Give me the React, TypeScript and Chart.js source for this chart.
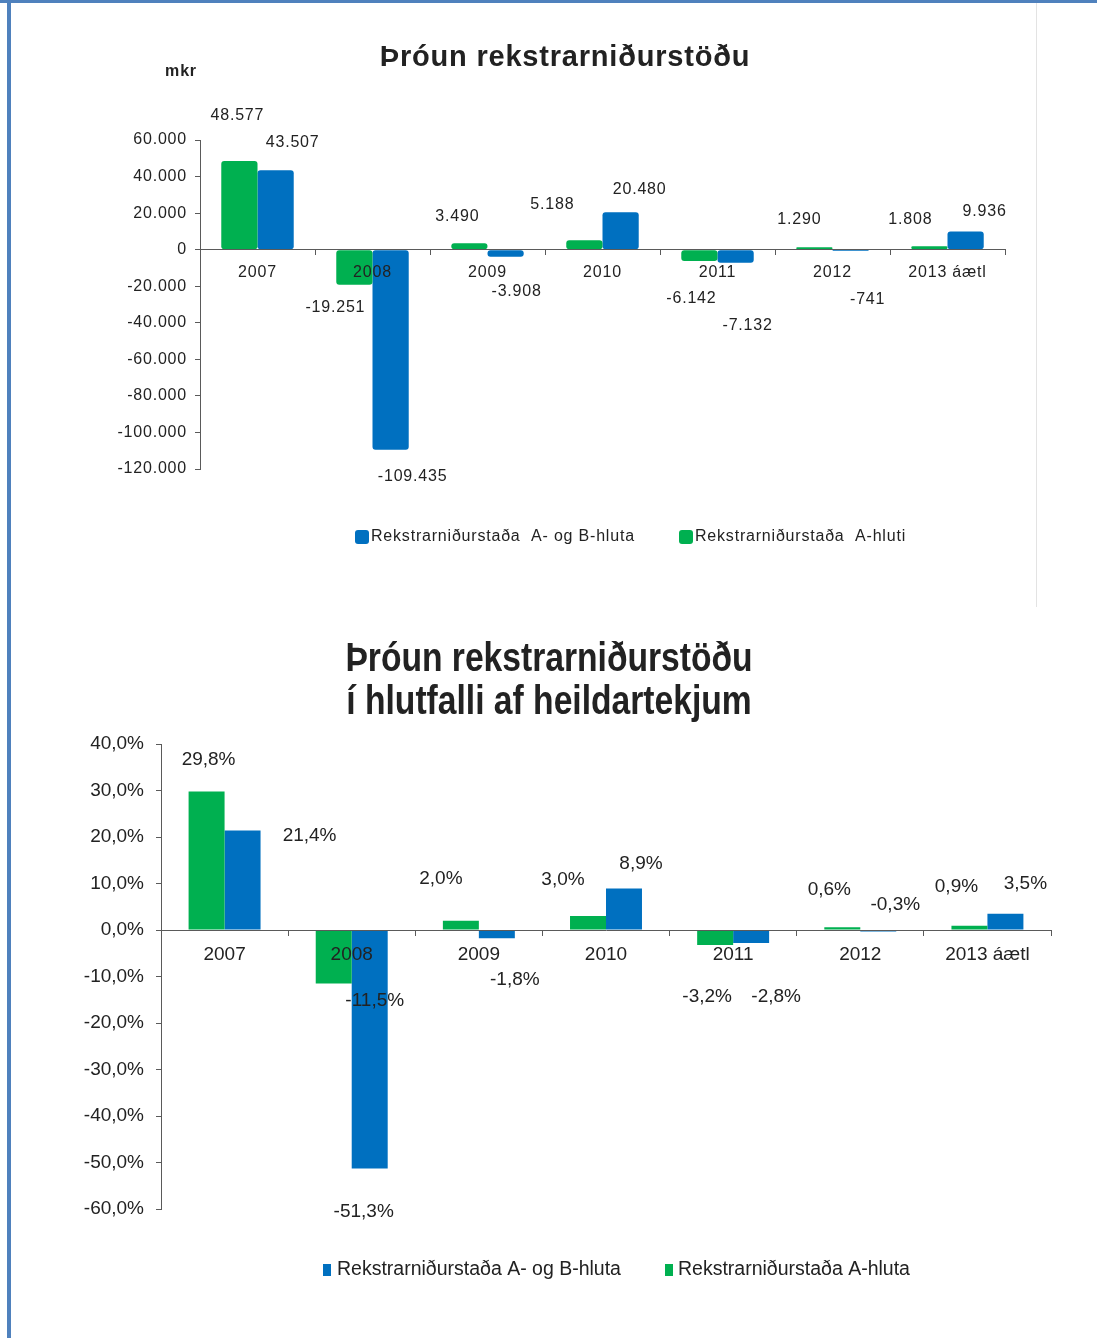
import React, { useEffect, useRef } from 'react';
import { Chart, registerables } from 'chart.js';

Chart.register(...registerables);

// ---------- data ----------
const categories = ['2007', '2008', '2009', '2010', '2011', '2012', '2013 áætl'];

// Chart 1: amounts (mkr)
const amountA = [48577, -19251, 3490, 5188, -6142, 1290, 1808];
const amountAB = [43507, -109435, -3908, 20480, -7132, -741, 9936];
const amountTicks = [60000, 40000, 20000, 0, -20000, -40000, -60000, -80000, -100000, -120000];

// Chart 2: share of total revenue (%)
const ratioA = [29.8, -11.5, 2.0, 3.0, -3.2, 0.6, 0.9];
const ratioAB = [21.4, -51.3, -1.8, 8.9, -2.8, -0.3, 3.5];
const ratioTicks = [40, 30, 20, 10, 0, -10, -20, -30, -40, -50, -60];

const title1 = 'Þróun rekstrarniðurstöðu';
const unit1 = 'mkr';
const title2 = ['Þróun rekstrarniðurstöðu', 'í hlutfalli af heildartekjum'];
const legend1 = ['Rekstrarniðurstaða  A-hluti', 'Rekstrarniðurstaða  A- og B-hluta'];
const legend2 = ['Rekstrarniðurstaða A-hluta', 'Rekstrarniðurstaða A- og B-hluta'];

// ---------- style ----------
const GREEN = '#00b050';
const BLUE = '#0070c0';
const TEXT = '#222222';
const AXIS = '#5a5a5a';
const FAMILY = '"Liberation Sans", Arial, sans-serif';

// label nudges [dx, dy] relative to bar centre / bar end (style only)
const nudge1 = [
  [[-2, -45], [-19, 23], [-12, -27], [-32, -36], [-8, 38], [-15, -28], [-19, -27]],
  [[17, -28], [22, 27], [11, 35], [19, -23], [12, 63], [17, 49], [19, -20]],
];
const nudge2 = [
  [[2, -32], [41, 17], [-20, -42], [-25, -36], [-8, 52], [-13, -37], [-13, -39]],
  [[67, 5], [-6, 43], [18, 41], [17, -25], [25, 54], [17, -27], [20, -30]],
];

function fmtThousands(v: number): string {
  const neg = v < 0;
  const s = Math.abs(Math.round(v)).toString().replace(/\B(?=(\d{3})+(?!\d))/g, '.');
  return (neg ? '-' : '') + s;
}
function fmtPct(v: number): string {
  const r = Math.round(v * 10) / 10;
  return (Object.is(r, -0) ? 0 : r).toFixed(1).replace('.', ',') + '%';
}

type DecorCfg = {
  letterSpacing: string;
  fmt: (v: number) => string;
  labelFont: string;
  nudges: number[][][];
  drawTitle: (ctx: CanvasRenderingContext2D) => void;
  legend: { font: string; y: number; items: { x: number; textX: number; w: number; h: number; r: number }[] };
};

function makeDecor(cfg: DecorCfg) {
  return {
    id: 'decor',
    beforeDraw(chart: any) {
      const ctx = chart.ctx as any;
      ctx.letterSpacing = cfg.letterSpacing;
    },
    afterDraw(chart: any) {
      const ctx = chart.ctx as CanvasRenderingContext2D;
      // value labels
      ctx.save();
      ctx.font = cfg.labelFont;
      ctx.fillStyle = TEXT;
      ctx.textAlign = 'center';
      ctx.textBaseline = 'middle';
      chart.data.datasets.forEach((ds: any, d: number) => {
        const meta = chart.getDatasetMeta(d);
        meta.data.forEach((bar: any, i: number) => {
          const [dx, dy] = cfg.nudges[d][i];
          ctx.fillText(cfg.fmt(ds.data[i]), bar.x + dx, bar.y + dy);
        });
      });
      ctx.restore();
      // titles
      ctx.save();
      ctx.fillStyle = TEXT;
      cfg.drawTitle(ctx);
      ctx.restore();
      // legend: blue (second dataset) first
      const order = [1, 0];
      ctx.save();
      ctx.font = cfg.legend.font;
      ctx.textBaseline = 'middle';
      ctx.textAlign = 'left';
      order.forEach((d, k) => {
        const ds = chart.data.datasets[d];
        const it = cfg.legend.items[k];
        ctx.fillStyle = ds.backgroundColor;
        ctx.beginPath();
        if (it.r > 0 && (ctx as any).roundRect) {
          (ctx as any).roundRect(it.x, cfg.legend.y - it.h / 2, it.w, it.h, it.r);
        } else {
          ctx.rect(it.x, cfg.legend.y - it.h / 2, it.w, it.h);
        }
        ctx.fill();
        ctx.fillStyle = TEXT;
        ctx.fillText(ds.label, it.textX, cfg.legend.y);
      });
      ctx.restore();
    },
  };
}

function chart1Config() {
  return {
    type: 'bar',
    data: {
      labels: categories,
      datasets: [
        { label: legend1[0], data: amountA, backgroundColor: GREEN, borderRadius: 3, borderSkipped: false, categoryPercentage: 0.63, barPercentage: 1 },
        { label: legend1[1], data: amountAB, backgroundColor: BLUE, borderRadius: 3, borderSkipped: false, categoryPercentage: 0.63, barPercentage: 1 },
      ],
    },
    options: {
      responsive: false,
      animation: false,
      events: [],
      layout: { padding: { left: 0, top: 140, right: 92, bottom: 141 } },
      plugins: { legend: { display: false }, title: { display: false }, tooltip: { enabled: false } },
      scales: {
        x: {
          position: { y: 0 },
          offset: true,
          grid: { drawOnChartArea: false, drawTicks: true, tickLength: 5, color: AXIS, offset: true, z: 1 },
          border: { display: true, color: AXIS, width: 1, z: 1 },
          ticks: { z: 1, color: TEXT, font: { family: FAMILY, size: 16 }, padding: 8, maxRotation: 0, autoSkip: false },
        },
        y: {
          min: amountTicks[amountTicks.length - 1],
          max: amountTicks[0],
          afterFit: (s: any) => { s.width = 200; },
          afterBuildTicks: (s: any) => { s.ticks = amountTicks.map((v) => ({ value: v })); },
          grid: { drawOnChartArea: false, tickLength: 5, color: AXIS },
          border: { display: true, color: AXIS, width: 1 },
          ticks: { color: TEXT, font: { family: FAMILY, size: 16 }, padding: 8, callback: (v: any) => fmtThousands(Number(v)) },
        },
      },
    },
    plugins: [
      makeDecor({
        letterSpacing: '0.8px',
        fmt: fmtThousands,
        labelFont: `16px ${FAMILY}`,
        nudges: nudge1,
        drawTitle: (ctx) => {
          ctx.textAlign = 'center';
          ctx.textBaseline = 'middle';
          ctx.font = `bold 29px ${FAMILY}`;
          ctx.fillText(title1, 565, 58);
          ctx.font = `bold 16px ${FAMILY}`;
          ctx.fillText(unit1, 181, 72);
        },
        legend: {
          font: `16px ${FAMILY}`,
          y: 537,
          items: [
            { x: 355, textX: 371, w: 14, h: 14, r: 3 },
            { x: 679, textX: 695, w: 14, h: 14, r: 3 },
          ],
        },
      }),
    ],
  };
}

function chart2Config() {
  return {
    type: 'bar',
    data: {
      labels: categories,
      datasets: [
        { label: legend2[0], data: ratioA, backgroundColor: GREEN, categoryPercentage: 0.566, barPercentage: 1 },
        { label: legend2[1], data: ratioAB, backgroundColor: BLUE, categoryPercentage: 0.566, barPercentage: 1 },
      ],
    },
    options: {
      responsive: false,
      animation: false,
      events: [],
      layout: { padding: { left: 0, top: 134, right: 46, bottom: 129 } },
      plugins: { legend: { display: false }, title: { display: false }, tooltip: { enabled: false } },
      scales: {
        x: {
          position: { y: 0 },
          offset: true,
          grid: { drawOnChartArea: false, drawTicks: true, tickLength: 5, color: AXIS, offset: true, z: 1 },
          border: { display: true, color: AXIS, width: 1, z: 1 },
          ticks: { z: 1, color: TEXT, font: { family: FAMILY, size: 19 }, padding: 8, maxRotation: 0, autoSkip: false },
        },
        y: {
          min: ratioTicks[ratioTicks.length - 1],
          max: ratioTicks[0],
          afterFit: (s: any) => { s.width = 161; },
          afterBuildTicks: (s: any) => { s.ticks = ratioTicks.map((v) => ({ value: v })); },
          grid: { drawOnChartArea: false, tickLength: 5, color: AXIS },
          border: { display: true, color: AXIS, width: 1 },
          ticks: { color: TEXT, font: { family: FAMILY, size: 19 }, padding: 12, callback: (v: any) => fmtPct(Number(v)) },
        },
      },
    },
    plugins: [
      makeDecor({
        letterSpacing: '0px',
        fmt: fmtPct,
        labelFont: `19px ${FAMILY}`,
        nudges: nudge2,
        drawTitle: (ctx) => {
          ctx.textAlign = 'center';
          ctx.textBaseline = 'middle';
          ctx.font = `bold 41px ${FAMILY}`;
          const ys = [50, 93];
          title2.forEach((line, i) => {
            ctx.save();
            ctx.translate(549, ys[i]);
            ctx.scale(0.82, 1);
            ctx.fillText(line, 0, 0);
            ctx.restore();
          });
        },
        legend: {
          font: `19.5px ${FAMILY}`,
          y: 660,
          items: [
            { x: 323, textX: 337, w: 8, h: 12, r: 0 },
            { x: 665, textX: 678, w: 8, h: 12, r: 0 },
          ],
        },
      }),
    ],
  };
}

function ChartCanvas(props: { make: () => any; top: number; width: number; height: number }) {
  const ref = useRef<HTMLCanvasElement | null>(null);
  useEffect(() => {
    if (!ref.current) return;
    const chart = new Chart(ref.current, props.make() as any);
    return () => chart.destroy();
  }, []);
  return (
    <canvas
      ref={ref}
      width={props.width}
      height={props.height}
      style={{ position: 'absolute', left: 0, top: props.top, width: props.width, height: props.height, display: 'block' }}
    />
  );
}

export default function App() {
  return (
    <div style={{ position: 'absolute', left: 0, top: 0, width: 1097, height: 1338, background: '#ffffff', overflow: 'hidden' }}>
      <ChartCanvas make={chart1Config} top={0} width={1097} height={610} />
      <ChartCanvas make={chart2Config} top={610} width={1097} height={728} />
      <div style={{ position: 'absolute', left: 0, top: 0, width: 1097, height: 3, background: '#4f81bd' }} />
      <div style={{ position: 'absolute', left: 7, top: 0, width: 4, height: 1338, background: '#4f81bd' }} />
      <div style={{ position: 'absolute', left: 1036, top: 3, width: 1, height: 604, background: '#e3e3e3' }} />
    </div>
  );
}
